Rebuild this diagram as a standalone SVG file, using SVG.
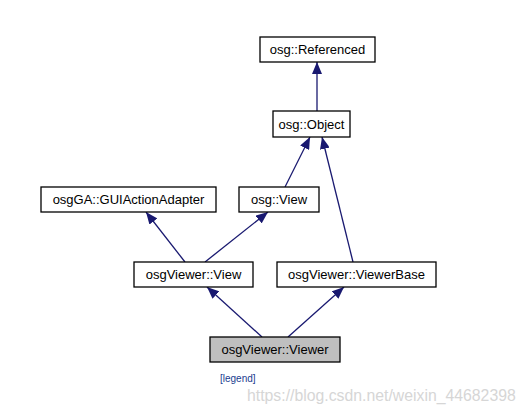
<svg xmlns="http://www.w3.org/2000/svg" width="529" height="415" viewBox="0 0 529 415">
<style>
.box{fill:#fff;stroke:#000;stroke-width:1.3}
.cur{fill:#bfbfbf;stroke:#000;stroke-width:1.3}
.lbl{font-family:"Liberation Sans",Arial,sans-serif;font-size:13px;fill:#000;text-anchor:middle}
.edge{stroke:#191970;stroke-width:1.3;fill:none;marker-end:url(#ah)}
</style>
<defs>
<marker id="ah" viewBox="0 0 12 10" refX="12" refY="5" markerWidth="12" markerHeight="10" markerUnits="userSpaceOnUse" orient="auto">
<path d="M0,0 L12,5 L0,10 z" fill="#191970"/>
</marker>
</defs>
<rect width="529" height="415" fill="#fff"/>
<g id="connectors">
<line class="edge" x1="317" y1="111" x2="317" y2="62"/>
<line class="edge" x1="285" y1="187" x2="310" y2="137"/>
<line class="edge" x1="353" y1="262" x2="322" y2="137"/>
<line class="edge" x1="185" y1="262" x2="146" y2="212"/>
<line class="edge" x1="205" y1="262" x2="268" y2="212"/>
<line class="edge" x1="262" y1="337" x2="207" y2="287"/>
<line class="edge" x1="288" y1="337" x2="344" y2="287"/>
</g>
<g id="referenced"><rect class="box" x="260" y="37" width="115" height="25"/><text class="lbl" x="317.5" y="54">osg::Referenced</text></g>
<g id="object"><rect class="box" x="273" y="111" width="77" height="26"/><text class="lbl" x="311.5" y="128.5">osg::Object</text></g>
<g id="guiactionadapter"><rect class="box" x="41" y="187" width="175" height="25"/><text class="lbl" x="128.5" y="204">osgGA::GUIActionAdapter</text></g>
<g id="osgview"><rect class="box" x="239" y="187" width="80" height="25"/><text class="lbl" x="279" y="204">osg::View</text></g>
<g id="viewerview"><rect class="box" x="134" y="262" width="119" height="25"/><text class="lbl" x="193.5" y="279">osgViewer::View</text></g>
<g id="viewerbase"><rect class="box" x="277" y="262" width="159" height="25"/><text class="lbl" x="356.5" y="279">osgViewer::ViewerBase</text></g>
<g id="viewer"><rect class="cur" x="210" y="337" width="130" height="25"/><text class="lbl" x="275" y="354">osgViewer::Viewer</text></g>
<text x="220" y="382" font-family="Liberation Sans,Arial,sans-serif" font-size="10px" fill="#1a3d8f">[legend]</text>
<text x="247" y="401" font-family="Liberation Sans,Arial,sans-serif" font-size="15.8px" fill="#d6d6d6">https://blog.csdn.net/weixin_44682398</text>
</svg>
